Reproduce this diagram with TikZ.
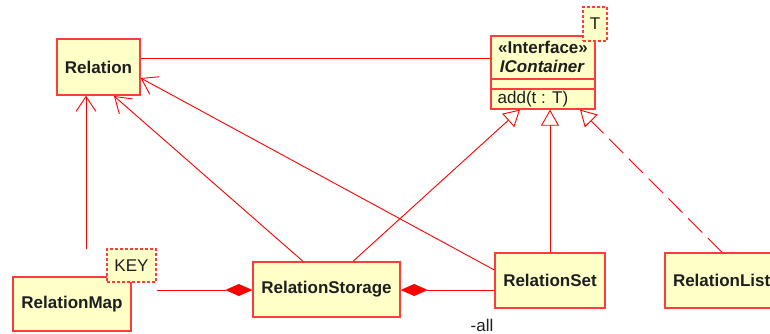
\documentclass[tikz,border=0pt]{standalone}
\usepackage{fontspec}
\setmainfont{Liberation Sans}
\usetikzlibrary{arrows.meta}
\definecolor{umlred}{RGB}{255,0,0}
\definecolor{boxred}{RGB}{255,60,60}
\definecolor{umlfill}{RGB}{255,255,200}
\definecolor{umltext}{RGB}{30,30,30}
\begin{document}
\begin{tikzpicture}[x=1pt,y=-1pt,
 classbox/.style={draw=boxred, fill=umlfill, line width=1.3pt, inner sep=0pt, font=\fontsize{17}{19}\selectfont\bfseries, text=umltext},
 parambox/.style={draw=boxred, dash pattern=on 3pt off 2pt, fill=umlfill, line width=1.3pt, inner sep=0pt, font=\fontsize{17}{19}\selectfont, text=umltext},
 txt/.style={inner sep=0pt, font=\fontsize{17}{19}\selectfont, text=umltext},
 link/.style={draw=umlred, line width=0.9pt},
 assoc/.style={link, -{Straight Barb[length=15pt,width=20pt]}},
 realize/.style={link, -{Triangle[length=16pt,width=18pt,fill=white]}},
 compose/.style={link, -{Diamond[length=27pt,width=12pt]}},
]
\useasboundingbox (0,0) rectangle (770,334);
% classes
\node[classbox, minimum width=83pt, minimum height=56pt] (rel) at (98.5,67) {Relation};
\node[classbox, minimum width=104pt, minimum height=73pt] (icont) at (543,72.5) {};
\draw[boxred, line width=1.3pt] (icont.west |- 0,79) -- (icont.east |- 0,79);
\draw[boxred, line width=1.3pt] (icont.west |- 0,89) -- (icont.east |- 0,89);
\node[txt, font=\fontsize{17}{19}\selectfont\bfseries] (stereo) at (543,47) {«Interface»};
\node[txt, font=\fontsize{17}{19}\selectfont\bfseries\itshape] (iname) at (542,66.5) {IContainer};
\node[txt, anchor=west] (op) at (497.5,99.5) {add(t : T)};
\node[parambox, minimum width=24pt, minimum height=34pt] (tpar) at (595,24) {T};
\node[classbox, minimum width=118pt, minimum height=54pt] (rmap) at (72,304) {RelationMap};
\node[parambox, minimum width=49pt, minimum height=33pt] (key) at (131.5,265.5) {KEY};
\node[classbox, minimum width=147pt, minimum height=55pt] (stor) at (326.5,289.5) {RelationStorage};
\node[classbox, minimum width=110pt, minimum height=55pt] (rset) at (550,280.5) {RelationSet};
\node[classbox, minimum width=120pt, minimum height=55pt, text width=104pt, align=left] (rlist) at (725,280.5) {RelationList};
\node[txt, anchor=base] (all) at (482,331) {-all};
% connector end points
\coordinate (mapTop) at (86,249);
\coordinate (mapRight) at (157,290);
% connectors
\draw[link] (rel.east |- 0,58) -- (icont.west |- 0,58);
\draw[assoc] (mapTop) -- (rel.south -| mapTop);
\draw[assoc] (stor.north -| 303,0) -- (114,96);
\draw[assoc] (rset.west |- 0,270) -- (rel.east |- 142,78);
\draw[realize] (stor.north -| 353,0) -- (icont.south -| 520,0);
\draw[realize] (rset.north) -- (icont.south -| rset.north);
\draw[realize, dash pattern=on 20pt off 8pt] (rlist.north -| 722,0) -- (icont.south -| 580,0);
\draw[compose] (mapRight) -- (stor.west |- mapRight);
\draw[compose] (rset.west |- 0,290) -- (stor.east |- 0,290);
\end{tikzpicture}
\end{document}
